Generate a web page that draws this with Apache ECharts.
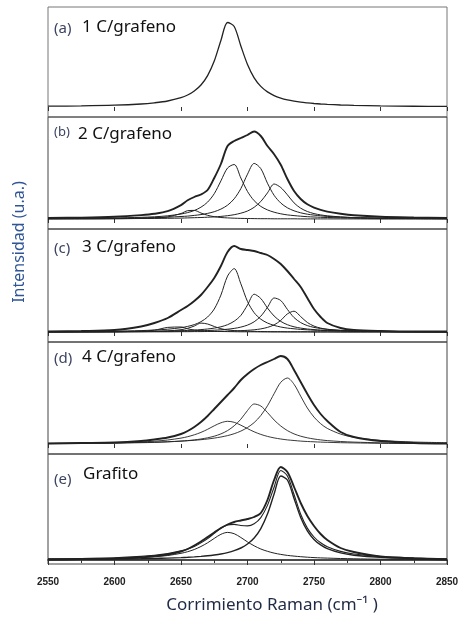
<!DOCTYPE html>
<html>
<head>
<meta charset="utf-8">
<title>Raman 2D</title>
<script src="https://cdn.jsdelivr.net/npm/echarts@6/dist/echarts.min.js"></script>
<style>
  html, body { margin: 0; padding: 0; background: #fff; }
  #main { width: 458px; height: 617px; }
</style>
</head>
<body>
<div id="main"></div>
<script>
// eje x comun (cm-1)
var ramanShift = [2550, 2575, 2600, 2620, 2630, 2640, 2650, 2655, 2660, 2665, 2670, 2675, 2680, 2685, 2690, 2695, 2700,
    2705, 2710, 2715, 2720, 2725, 2730, 2735, 2740, 2745, 2750, 2755, 2760, 2770, 2780, 2800, 2825, 2850];
var xTicks = [2550, 2600, 2650, 2700, 2750, 2800, 2850];

// (a) 1 C/grafeno
var oneLayer = [0.8, 1.1, 1.8, 3.0, 4.2, 6.0, 9.3, 12.0, 16.0, 22.0, 31.4, 45.9, 66.5, 84.5, 80.5, 61.0, 42.5,
    29.1, 20.6, 15.1, 11.4, 8.9, 7.1, 5.8, 4.8, 4.1, 3.5, 3.0, 2.6, 2.0, 1.6, 1.1, 0.75, 0.54];

// (b) 2 C/grafeno
var twoLayerData = [1.0, 1.4, 2.3, 3.9, 5.2, 7.8, 13.9, 18.7, 22.0, 24.5, 29, 41, 55, 73, 78, 81, 84,
    87.5, 83, 73, 64.8, 54.3, 40, 28, 20, 14.7, 11.4, 9.1, 7.4, 5.3, 3.8, 2.3, 1.5, 1.0];
var twoLayerP1 = [0.1, 0.1, 0.3, 0.6, 1.0, 2.1, 5.5, 8.3, 8.6, 6.0, 3.7, 2.3, 1.5, 1.1, 0.8, 0.6, 0.5,
    0.4, 0.3, 0.3, 0.2, 0.2, 0.2, 0.2, 0.1, 0.1, 0.1, 0.1, 0.1, 0.1, 0.1, 0, 0, 0];
var twoLayerP2 = [0.4, 0.6, 1.0, 1.7, 2.2, 3.2, 5.0, 6.4, 8.5, 11.8, 16.9, 25.3, 38.1, 51.0, 54.5, 41.0, 27.5,
    18.3, 12.6, 9.1, 6.8, 5.2, 4.1, 3.4, 2.8, 2.3, 2.0, 1.7, 1.5, 1.2, 0.9, 0.6, 0.4, 0.3];
var twoLayerP3 = [0.3, 0.5, 0.7, 1.1, 1.4, 1.8, 2.5, 2.9, 3.6, 4.4, 5.6, 7.3, 9.9, 13.8, 20.2, 30.4, 44.8,
    55.6, 50.4, 35.8, 23.7, 16.0, 11.2, 8.2, 6.2, 4.8, 3.9, 3.2, 2.6, 1.9, 1.4, 0.9, 0.6, 0.4];
var twoLayerP4 = [0.2, 0.2, 0.3, 0.5, 0.6, 0.7, 0.9, 1.1, 1.3, 1.5, 1.8, 2.1, 2.6, 3.3, 4.3, 5.8, 8.0,
    11.7, 17.5, 26.1, 35.0, 31.5, 24.2, 16.1, 10.8, 7.5, 5.4, 4.1, 3.2, 2.1, 1.4, 0.8, 0.5, 0.3];

// (c) 3 C/grafeno
var threeLayerData = [0.5, 1, 2, 5.5, 9, 14, 22, 26, 31, 37, 45, 54, 66, 80, 86, 83, 82,
    81, 79, 77, 73, 68, 61, 53, 45, 34, 23, 15, 9, 4, 2, 1, 0.5, 0.5];
var threeLayerP1 = [0.1, 0.1, 0.3, 0.8, 1.8, 4.6, 5.0, 3.2, 1.9, 1.2, 0.9, 0.6, 0.5, 0.4, 0.3, 0.2, 0.2,
    0.2, 0.1, 0.1, 0.1, 0.1, 0.1, 0.1, 0.1, 0.1, 0.1, 0.1, 0.1, 0, 0, 0, 0, 0];
var threeLayerP2 = [0.1, 0.1, 0.2, 0.4, 0.6, 1.1, 2.3, 3.7, 6.0, 8.9, 8.0, 5.5, 3.3, 2.1, 1.4, 1.0, 0.8,
    0.6, 0.5, 0.4, 0.3, 0.3, 0.2, 0.2, 0.2, 0.2, 0.1, 0.1, 0.1, 0.1, 0.1, 0.1, 0, 0];
var threeLayerP3 = [0.4, 0.5, 0.9, 1.4, 2.0, 2.8, 4.3, 5.6, 7.4, 10.3, 15.0, 23.0, 36.9, 55.9, 63.4, 48.2, 30.5,
    19.3, 12.8, 9.0, 6.6, 5.0, 3.9, 3.2, 2.6, 2.2, 1.8, 1.6, 1.4, 1.1, 0.8, 0.6, 0.4, 0.3];
var threeLayerP4 = [0.2, 0.3, 0.4, 0.6, 0.8, 1.0, 1.3, 1.6, 1.9, 2.4, 3.0, 3.9, 5.2, 7.3, 10.8, 16.6, 27.0,
    37.8, 33.5, 24.0, 16.0, 10.6, 7.3, 5.2, 3.9, 3.0, 2.4, 1.9, 1.6, 1.2, 0.9, 0.5, 0.3, 0.2];
var threeLayerP5 = [0.1, 0.2, 0.3, 0.4, 0.5, 0.6, 0.8, 0.9, 1.1, 1.2, 1.5, 1.8, 2.2, 2.8, 3.6, 4.9, 6.9,
    10.2, 15.8, 24.6, 34.0, 31.5, 22.6, 14.4, 9.4, 6.4, 4.6, 3.5, 2.7, 1.7, 1.2, 0.7, 0.4, 0.3];
var threeLayerP6 = [0.1, 0.1, 0.1, 0.2, 0.2, 0.2, 0.3, 0.3, 0.4, 0.4, 0.5, 0.6, 0.7, 0.8, 1.0, 1.3, 1.7,
    2.2, 3.1, 4.6, 7.1, 11.6, 18.1, 20.8, 15.4, 9.5, 5.9, 3.9, 2.7, 1.5, 0.9, 0.5, 0.3, 0.2];

// (d) 4 C/grafeno
var fourLayerData = [0.5, 1, 1.5, 3, 4.5, 6.5, 10, 13, 17, 22, 28, 35, 42, 49, 56, 64, 70,
    75, 79, 82, 85, 88, 85, 74, 62, 50, 39, 30, 23, 12, 7, 3, 1, 0.5];
var fourLayerP1 = [0.5, 0.8, 1.3, 2.1, 2.8, 4.0, 5.9, 7.3, 9.2, 11.6, 14.7, 18.2, 21.2, 22.7, 21.7, 18.8, 15.4,
    12.2, 9.6, 7.6, 6.1, 5.0, 4.1, 3.5, 2.9, 2.5, 2.2, 1.9, 1.7, 1.3, 1.1, 0.7, 0.5, 0.4];
var fourLayerP2 = [0.4, 0.6, 0.9, 1.3, 1.6, 2.1, 2.9, 3.4, 4.1, 5.0, 6.2, 7.8, 10.1, 13.4, 18.2, 24.8, 33.5,
    40.0, 38.0, 31.5, 24.0, 18.0, 13.4, 10.1, 7.8, 6.2, 5.0, 4.1, 3.4, 2.5, 1.9, 1.2, 0.7, 0.5];
var fourLayerP3 = [0.6, 0.8, 1.1, 1.6, 1.9, 2.3, 2.9, 3.3, 3.7, 4.3, 5.0, 5.9, 7.0, 8.4, 10.3, 12.9, 16.5,
    21.4, 28.5, 38.2, 50.3, 61.7, 66.0, 59.7, 47.8, 36.0, 26.9, 20.3, 15.6, 9.9, 6.7, 3.6, 2.0, 1.3];

// (e) Grafito
var graphiteData = [0.5, 1, 1.5, 2.5, 4, 5.5, 8.5, 11, 14.5, 18.5, 23, 27.5, 32, 35.5, 38, 39.5, 41,
    43, 47, 60, 80, 93, 88, 73, 57, 44, 34, 26, 20, 12, 8, 3.5, 1.5, 0.5];
var graphiteFit = [1.1, 1.5, 2.3, 3.6, 4.7, 6.4, 9.1, 11.0, 13.6, 17.1, 21.4, 26.6, 31.7, 35.0, 35.6, 34.5, 34.1,
    36.2, 42.4, 54.6, 72.8, 89.5, 84.0, 65.5, 45.8, 31.9, 23.0, 17.2, 13.3, 8.6, 6.0, 3.4, 2.1, 1.3];
var graphiteP1 = [0.6, 0.9, 1.4, 2.4, 3.2, 4.5, 6.7, 8.3, 10.5, 13.5, 17.2, 21.6, 25.7, 27.6, 26.3, 22.5, 18.1,
    14.2, 11.0, 8.7, 6.9, 5.6, 4.6, 3.9, 3.3, 2.8, 2.4, 2.1, 1.9, 1.5, 1.2, 0.8, 0.6, 0.4];
var graphiteP2 = [0.5, 0.6, 0.9, 1.2, 1.5, 1.9, 2.4, 2.7, 3.1, 3.6, 4.2, 5.0, 6.0, 7.4, 9.3, 12.0, 16.0,
    22.0, 31.4, 45.9, 65.9, 84.0, 80.0, 61.6, 42.5, 29.1, 20.6, 15.1, 11.4, 7.1, 4.8, 2.6, 1.5, 0.9];

var panelTags = ['(a)', '(b)', '(c)', '(d)', '(e)'];
var panelNames = ['1 C/grafeno', '2 C/grafeno', '3 C/grafeno', '4 C/grafeno', 'Grafito'];

// paneles: [top, height, ymin, ymax], curvas: [datos, grosor]
var panels = [
    { box: [7, 110, -10, 100], curves: [[oneLayer, 1.3]] },
    { box: [117, 112, -10, 102], curves: [[twoLayerData, 1.9], [twoLayerP1, 1], [twoLayerP2, 1], [twoLayerP3, 1], [twoLayerP4, 1]] },
    { box: [229, 113, -10, 103], curves: [[threeLayerData, 1.9], [threeLayerP1, 1], [threeLayerP2, 1], [threeLayerP3, 1], [threeLayerP4, 1], [threeLayerP5, 1], [threeLayerP6, 1]] },
    { box: [342, 112, -10, 102], curves: [[fourLayerData, 1.9], [fourLayerP1, 0.9], [fourLayerP2, 0.9], [fourLayerP3, 0.9]] },
    { box: [454, 110, -4, 106], curves: [[graphiteData, 1.9], [graphiteFit, 1.1], [graphiteP1, 1], [graphiteP2, 1.4]] }
];
var tagPos = [[54, 30, 82, 30], [54, 135, 78, 137], [54, 250, 82, 250], [54, 360, 82, 360], [54, 481, 83, 477]];

var grids = [], xAxes = [], yAxes = [], series = [], texts = [];

panels.forEach(function (p, i) {
    var last = i === panels.length - 1;
    grids.push({
        left: 48, width: 399, top: p.box[0], height: p.box[1],
        outerBoundsMode: 'none', containLabel: false,
        show: true, borderColor: i === 0 ? '#777' : '#444', borderWidth: 1
    });
    xAxes.push({
        gridIndex: i, type: 'value', min: xTicks[0], max: xTicks[xTicks.length - 1], interval: 50,
        axisLine: { show: last, lineStyle: { color: '#111', width: 1.5 } },
        splitLine: { show: false },
        axisTick: { show: true, inside: false, length: last ? 5 : 4, lineStyle: { color: '#333' } },
        minorTick: { show: last, splitNumber: 2, length: 3, lineStyle: { color: '#333' } },
        axisLabel: {
            show: last, margin: 13, color: '#222', fontSize: 10, fontWeight: 'bold',
            fontFamily: 'Liberation Sans',
            formatter: function (v) { return String(v); }
        }
    });
    yAxes.push({ gridIndex: i, type: 'value', min: p.box[2], max: p.box[3], show: false });
    p.curves.forEach(function (c) {
        series.push({
            type: 'line', xAxisIndex: i, yAxisIndex: i, showSymbol: false,
            smooth: 0.3,
            lineStyle: { color: '#222', width: c[1] },
            data: ramanShift.map(function (x, k) { return [x, c[0][k]]; })
        });
    });
    texts.push({
        type: 'text', left: tagPos[i][0], top: tagPos[i][1] - 9,
        style: { text: panelTags[i], font: (i === 1 ? '13px' : '15px') + ' "Noto Sans"', fill: '#3c4461' }
    });
    texts.push({
        type: 'text', left: tagPos[i][2], top: tagPos[i][3] - 11,
        style: { text: panelNames[i], font: '17px "Noto Sans"', fill: '#111' }
    });
});

// titulos de ejes
texts.push({
    type: 'text', x: 19, y: 242, rotation: Math.PI / 2,
    style: { text: 'Intensidad (u.a.)', font: '16px "Noto Sans"', fill: '#2f5597', align: 'center', verticalAlign: 'middle' }
});
texts.push({
    type: 'text', x: 272, y: 605,
    style: { text: 'Corrimiento Raman (cm\u207B\u00B9 )', font: '17px "Noto Sans"', fill: '#1f2a44', align: 'center', verticalAlign: 'middle' }
});

var myChart = echarts.init(document.getElementById('main'), null, { renderer: 'canvas' });
myChart.setOption({
    animation: false,
    backgroundColor: '#fff',
    grid: grids,
    xAxis: xAxes,
    yAxis: yAxes,
    series: series,
    graphic: texts
});
</script>
</body>
</html>
